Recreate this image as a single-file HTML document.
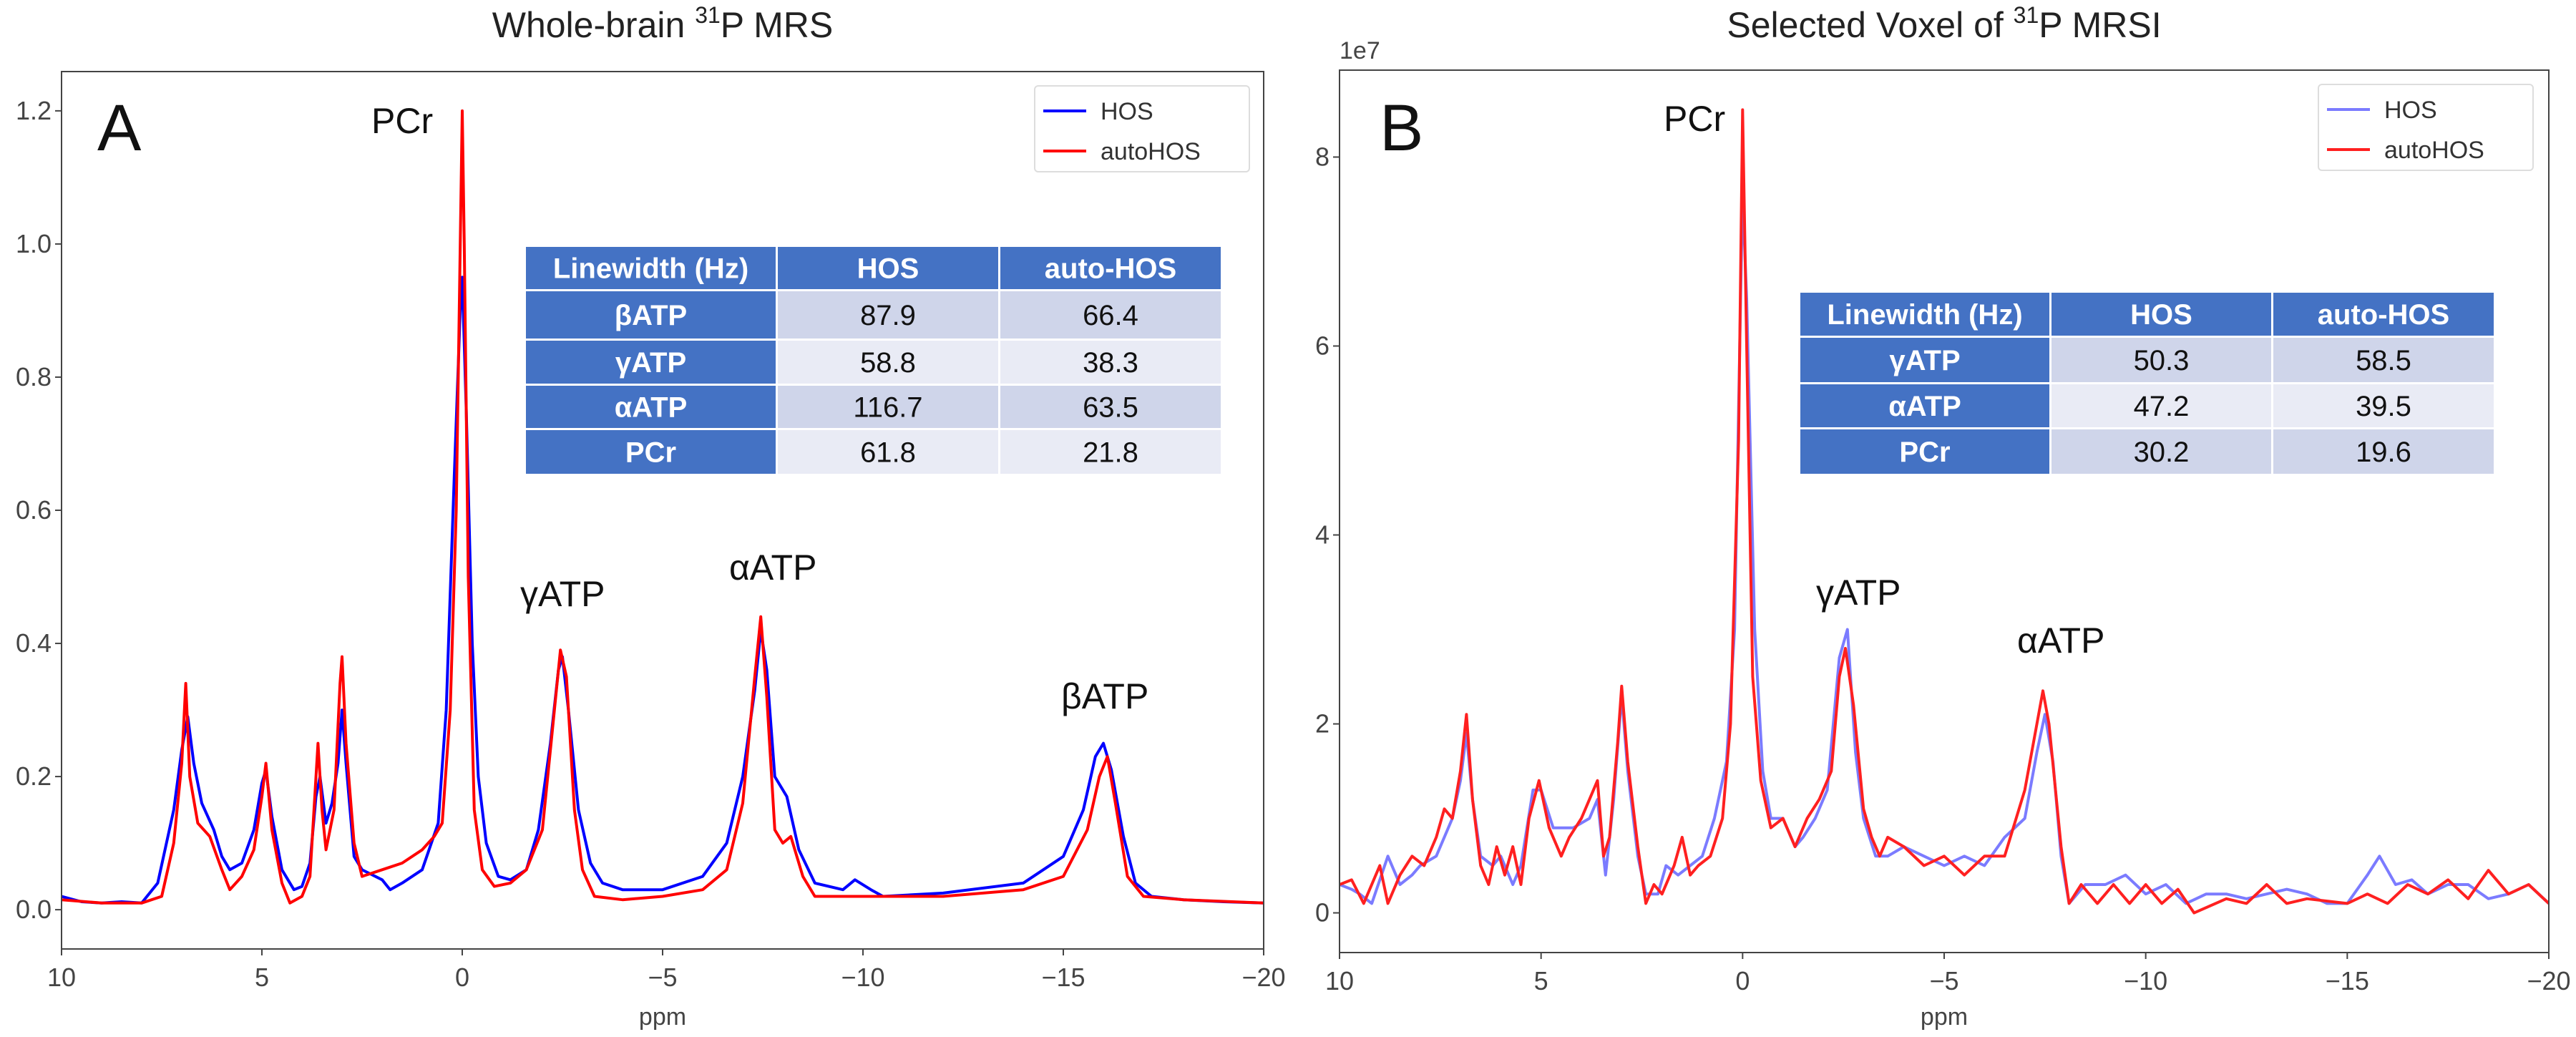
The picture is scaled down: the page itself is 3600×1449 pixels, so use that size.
<!DOCTYPE html>
<html><head><meta charset="utf-8">
<style>
html,body{margin:0;padding:0;background:#fff;}
svg{display:block;font-family:"Liberation Sans","DejaVu Sans",sans-serif;}
</style></head>
<body>
<svg id="fig" width="3600" height="1449" viewBox="0 0 3600 1449" xmlns="http://www.w3.org/2000/svg"></svg>
<script>
// ---- Panel A data (ppm, value) ----
const aHosPpm=[10,9.5,9,8.5,8,7.6,7.2,7.0,6.85,6.7,6.5,6.2,6.0,5.8,5.5,5.2,5.0,4.9,4.75,4.5,4.2,4.0,3.8,3.65,3.55,3.4,3.25,3.1,3.0,2.9,2.7,2.5,2.0,1.8,1.5,1.0,0.6,0.4,0.2,0.05,0,-0.1,-0.25,-0.4,-0.6,-0.9,-1.2,-1.6,-1.9,-2.2,-2.4,-2.5,-2.65,-2.9,-3.2,-3.5,-4,-5,-6,-6.6,-7.0,-7.3,-7.45,-7.6,-7.8,-8.1,-8.4,-8.8,-9.5,-9.8,-10.2,-10.5,-12,-14,-15,-15.5,-15.8,-16.0,-16.2,-16.5,-16.8,-17.2,-18,-19,-20];
const aHosVal=[0.02,0.012,0.01,0.012,0.01,0.04,0.15,0.24,0.29,0.22,0.16,0.12,0.08,0.06,0.07,0.12,0.19,0.21,0.14,0.06,0.03,0.035,0.07,0.17,0.2,0.13,0.16,0.22,0.30,0.22,0.08,0.06,0.045,0.03,0.04,0.06,0.13,0.30,0.65,0.9,0.95,0.75,0.40,0.20,0.10,0.05,0.045,0.06,0.12,0.25,0.36,0.38,0.30,0.15,0.07,0.04,0.03,0.03,0.05,0.10,0.20,0.33,0.42,0.36,0.20,0.17,0.09,0.04,0.03,0.045,0.03,0.02,0.025,0.04,0.08,0.15,0.23,0.25,0.21,0.11,0.04,0.02,0.015,0.012,0.01];
const aAutoPpm=[10,9,8,7.5,7.2,7.0,6.9,6.8,6.6,6.3,6.0,5.8,5.5,5.2,5.0,4.9,4.75,4.5,4.3,4.0,3.8,3.65,3.6,3.5,3.4,3.2,3.05,3.0,2.9,2.7,2.5,2.0,1.5,1.0,0.7,0.5,0.3,0.15,0.05,0,-0.05,-0.15,-0.3,-0.5,-0.8,-1.2,-1.6,-2.0,-2.3,-2.45,-2.6,-2.8,-3.0,-3.3,-4,-5,-6,-6.6,-7.0,-7.3,-7.45,-7.6,-7.8,-8.0,-8.2,-8.5,-8.8,-10,-12,-14,-15,-15.6,-15.9,-16.1,-16.3,-16.6,-17,-18,-20];
const aAutoVal=[0.015,0.01,0.01,0.02,0.10,0.22,0.34,0.20,0.13,0.11,0.06,0.03,0.05,0.09,0.17,0.22,0.12,0.04,0.01,0.02,0.05,0.20,0.25,0.15,0.09,0.15,0.34,0.38,0.25,0.10,0.05,0.06,0.07,0.09,0.11,0.13,0.30,0.60,1.0,1.2,1.0,0.50,0.15,0.06,0.035,0.04,0.06,0.12,0.30,0.39,0.35,0.15,0.06,0.02,0.015,0.02,0.03,0.06,0.16,0.35,0.44,0.32,0.12,0.10,0.11,0.05,0.02,0.02,0.02,0.03,0.05,0.12,0.20,0.23,0.16,0.05,0.02,0.015,0.01];
const aYTicks=[0.0,0.2,0.4,0.6,0.8,1.0,1.2];
const xTicks=[10,5,0,-5,-10,-15,-20];
// ---- Panel B data (ppm, value x1e7) ----
const bHosPpm=[10,9.7,9.5,9.2,8.8,8.5,8.2,8,7.6,7.2,7.0,6.85,6.7,6.5,6.2,6.0,5.7,5.5,5.2,5.0,4.7,4.5,4.2,3.8,3.6,3.4,3.2,3.0,2.85,2.6,2.4,2.1,1.9,1.6,1.3,1.0,0.7,0.4,0.2,0.05,0,-0.1,-0.3,-0.5,-0.7,-1.0,-1.3,-1.5,-1.8,-2.1,-2.4,-2.6,-2.8,-3.0,-3.3,-3.6,-4,-4.5,-5,-5.5,-6,-6.5,-7.0,-7.3,-7.5,-7.7,-7.9,-8.1,-8.5,-9,-9.5,-10,-10.5,-11,-11.5,-12,-12.5,-13,-13.5,-14,-14.5,-15,-15.5,-15.8,-16.2,-16.6,-17,-17.5,-18,-18.5,-19,-19.5,-20];
const bHosVal=[0.3,0.25,0.2,0.1,0.6,0.3,0.4,0.5,0.6,1.0,1.4,1.9,1.2,0.6,0.5,0.6,0.3,0.5,1.3,1.3,0.9,0.9,0.9,1.0,1.2,0.4,1.2,2.3,1.5,0.6,0.2,0.2,0.5,0.4,0.5,0.6,1.0,1.6,3.0,6.5,7.6,6.5,3.0,1.5,1.0,1.0,0.7,0.8,1.0,1.3,2.7,3.0,1.7,1.0,0.6,0.6,0.7,0.6,0.5,0.6,0.5,0.8,1.0,1.7,2.1,1.6,0.6,0.1,0.3,0.3,0.4,0.2,0.3,0.1,0.2,0.2,0.15,0.2,0.25,0.2,0.1,0.1,0.4,0.6,0.3,0.35,0.2,0.3,0.3,0.15,0.2,0.3,0.1];
const bAutoPpm=[10,9.7,9.4,9.0,8.8,8.5,8.2,7.9,7.6,7.4,7.2,7.0,6.85,6.7,6.5,6.3,6.1,5.9,5.7,5.5,5.3,5.05,4.8,4.5,4.3,4.0,3.6,3.45,3.3,3.1,3.0,2.85,2.6,2.4,2.2,2.0,1.7,1.5,1.3,1.1,0.8,0.5,0.3,0.1,0,-0.1,-0.25,-0.45,-0.7,-1.0,-1.3,-1.6,-1.9,-2.2,-2.4,-2.55,-2.75,-3.0,-3.2,-3.4,-3.6,-4,-4.5,-5,-5.5,-6,-6.5,-7,-7.3,-7.45,-7.6,-7.9,-8.1,-8.4,-8.8,-9.2,-9.6,-10,-10.4,-10.8,-11.2,-12,-12.5,-13,-13.5,-14,-15,-15.5,-16,-16.5,-17,-17.5,-18,-18.5,-19,-19.5,-20];
const bAutoVal=[0.3,0.35,0.1,0.5,0.1,0.4,0.6,0.5,0.8,1.1,1.0,1.5,2.1,1.2,0.5,0.3,0.7,0.4,0.7,0.3,1.0,1.4,0.9,0.6,0.8,1.0,1.4,0.6,0.8,1.8,2.4,1.6,0.7,0.1,0.3,0.2,0.5,0.8,0.4,0.5,0.6,1.0,2.0,5.0,8.5,6.0,2.5,1.4,0.9,1.0,0.7,1.0,1.2,1.5,2.5,2.8,2.2,1.1,0.8,0.6,0.8,0.7,0.5,0.6,0.4,0.6,0.6,1.3,2.0,2.35,2.0,0.7,0.1,0.3,0.1,0.3,0.1,0.3,0.1,0.25,0.0,0.15,0.1,0.3,0.1,0.15,0.1,0.2,0.1,0.3,0.2,0.35,0.15,0.45,0.2,0.3,0.1];
const bYTicks=[0,2,4,6,8];
const tableA=[["βATP","87.9","66.4"],["γATP","58.8","38.3"],["αATP","116.7","63.5"],["PCr","61.8","21.8"]];
const tableB=[["γATP","50.3","58.5"],["αATP","47.2","39.5"],["PCr","30.2","19.6"]];

const NS="http://www.w3.org/2000/svg";
const svg=document.getElementById('fig');
function mk(tag,attrs,parent,text){const e=document.createElementNS(NS,tag);for(const k in attrs)e.setAttribute(k,attrs[k]);if(text!==undefined)e.textContent=text;(parent||svg).appendChild(e);return e;}

function panel(cfg){
  const g=mk('g',{});
  
  
  const {L,R,T,B,ymin,ymax}=cfg;
  const sx=v=>L+(10-v)/30*(R-L);
  const sy=v=>B-(v-ymin)/(ymax-ymin)*(B-T);
  // title
  const t=mk('text',{x:(L+R)/2,y:52,'text-anchor':'middle','font-size':50,fill:'#222'},g);
  
  
  t.appendChild(document.createTextNode(cfg.title1));
  mk('tspan',{'font-size':32,dy:-20},t,'31');
  mk('tspan',{dy:20},t,cfg.title2);
  // series
  cfg.series.forEach(s=>{
    const d=s.ppm.map((p,i)=>(i?'L':'M')+sx(p).toFixed(1)+','+sy(s.val[i]).toFixed(1)).join('');
    const p=mk('path',{d:d,fill:'none',stroke:s.color,'stroke-width':4,'stroke-linejoin':'round','clip-path':'url(#'+cfg.clip+')'},g);
    
    
  });
  // axes frame
  const fr=mk('rect',{x:L,y:T,width:R-L,height:B-T,fill:'none',stroke:'#444','stroke-width':2},g);
  
  
  xTicks.forEach(v=>{
    const x=sx(v);
    mk('line',{x1:x,y1:B,x2:x,y2:B+9,stroke:'#444','stroke-width':2},g);
    const tl=mk('text',{x:x,y:B+52,'text-anchor':'middle','font-size':36,fill:'#444'},g,v<0?'\u2212'+(-v):String(v));
    
    
  });
  cfg.yticks.forEach(v=>{
    const y=sy(v);
    mk('line',{x1:L-9,y1:y,x2:L,y2:y,stroke:'#444','stroke-width':2},g);
    const tl=mk('text',{x:L-14,y:y+12,'text-anchor':'end','font-size':36,fill:'#444'},g,cfg.fmt(v));
    
    
  });
  const xl=mk('text',{x:(L+R)/2,y:1432,'text-anchor':'middle','font-size':34,fill:'#444'},g,'ppm');
  
  
  // legend
  const lg=mk('g',{},g);
  
  
  mk('rect',{x:cfg.leg[0],y:cfg.leg[1],width:300,height:120,rx:5,fill:'#fff',stroke:'#ddd','stroke-width':2},lg);
  cfg.series.forEach((s,i)=>{
    const yy=cfg.leg[1]+35+i*56;
    mk('line',{x1:cfg.leg[0]+12,y1:yy,x2:cfg.leg[0]+72,y2:yy,stroke:s.color,'stroke-width':4},lg);
    const lt=mk('text',{x:cfg.leg[0]+92,y:yy+12,'font-size':34,fill:'#333'},lg,s.label);
    
    
  });
  // annotations
  cfg.ann.forEach(a=>{
    const e=mk('text',{x:a[1],y:a[2],'font-size':a[3],fill:'#111'},g,a[0]);
    
    
  });
  // table
  const tb=mk('g',{},g);
  
  
  const cols=cfg.tcols, rows=cfg.trows;
  const hdr=["Linewidth (Hz)","HOS","auto-HOS"];
  const allRows=[hdr].concat(cfg.table);
  allRows.forEach((r,ri)=>{
    for(let ci=0;ci<3;ci++){
      const x0=cols[ci]+(ci?2:0), x1=cols[ci+1]-(ci<2?1:0);
      const y0=rows[ri]+(ri?3:0), y1=rows[ri+1];
      let fill='#4472C4';
      if(ri>0&&ci>0) fill=(ri%2===1)?'#CFD5EA':'#E9EBF5';
      mk('rect',{x:x0,y:y0,width:x1-x0,height:y1-y0,fill:fill},tb);
      const bold=(ri===0||ci===0);
      const c=mk('text',{x:(x0+x1)/2,y:(y0+y1)/2+14,'text-anchor':'middle','font-size':40,'font-weight':bold?'bold':'normal',fill:bold?'#fff':'#111'},tb,r[ci]);
      
      
    }
  });
  if(cfg.exp){
    const e=mk('text',{x:L,y:82,'font-size':34,fill:'#444'},g,'1e7');
    
    
  }
}
const defs=mk('defs',{});
const c1=mk('clipPath',{id:'clipA'},defs);mk('rect',{x:86,y:100,width:1680,height:1226},c1);
const c2=mk('clipPath',{id:'clipB'},defs);mk('rect',{x:1872,y:98,width:1690,height:1233},c2);

panel({name:'panel-a',L:86,R:1766,T:100,B:1326,ymin:-0.059,ymax:1.259,clip:'clipA',
  title1:'Whole-brain ',title2:'P MRS',yticks:aYTicks,fmt:v=>v.toFixed(1),
  series:[{ppm:aHosPpm,val:aHosVal,color:'#0000ff',label:'HOS',dname:'hos-line'},{ppm:aAutoPpm,val:aAutoVal,color:'#ff0000',label:'autoHOS',dname:'autohos-line'}],
  leg:[1446,120],
  ann:[['A',136,210,92],['PCr',519,186,50],['γATP',727,847,50],['αATP',1019,810,50],['βATP',1483,990,50]],
  tcols:[735,1085,1396,1706],trows:[345,404,473,536,598,662],table:tableA});
panel({name:'panel-b',L:1872,R:3562,T:98,B:1331,ymin:-0.42,ymax:8.92,clip:'clipB',exp:true,
  title1:'Selected Voxel of ',title2:'P MRSI',yticks:bYTicks,fmt:v=>String(v),
  series:[{ppm:bHosPpm,val:bHosVal,color:'#7b7bff',label:'HOS',dname:'hos-line'},{ppm:bAutoPpm,val:bAutoVal,color:'#ff2020',label:'autoHOS',dname:'autohos-line'}],
  leg:[3240,118],
  ann:[['B',1928,210,92],['PCr',2325,183,50],['γATP',2538,845,50],['αATP',2819,912,50]],
  tcols:[2516,2865,3175,3485],trows:[409,469,534,597,662],table:tableB});
</script>
</body></html>
